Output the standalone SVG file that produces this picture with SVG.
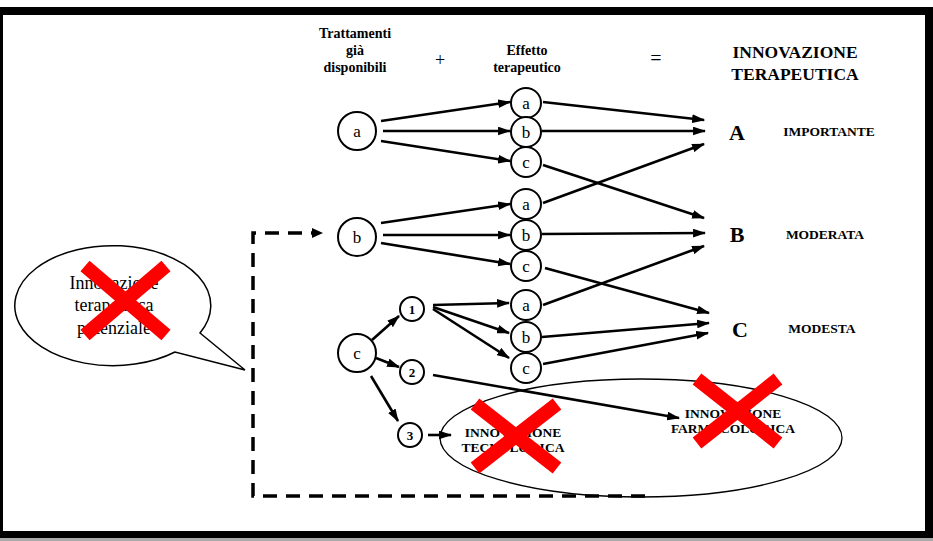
<svg xmlns="http://www.w3.org/2000/svg" width="933" height="541" viewBox="0 0 933 541">
<style>
.f{font-family:"Liberation Serif","DejaVu Serif",serif;fill:#000}
.b{font-weight:bold}
.n{fill:#fff;stroke:#000;stroke-width:2}
.l{stroke:#000;stroke-width:2.6;fill:none;marker-end:url(#ah)}
.x{stroke:#ff0000;stroke-width:14;fill:none}
</style>
<defs>
<marker id="ah" viewBox="0 0 12 8" refX="11" refY="4" markerWidth="13" markerHeight="9" markerUnits="userSpaceOnUse" orient="auto">
<path d="M0,0 L12,4 L0,8 z" fill="#000"/>
</marker>
</defs>
<rect width="933" height="541" fill="#fff"/>
<g id="frame" fill="#000">
<rect x="0" y="7" width="933" height="8"/>
<rect x="0" y="531" width="933" height="7"/>
<rect x="0" y="7" width="3" height="531"/>
<rect x="925" y="7" width="8" height="531"/>
<rect x="0" y="538" width="933" height="3" fill="#aaa"/>
</g>
<g id="header" class="f b" text-anchor="middle">
<text x="355" y="38" font-size="14">Trattamenti</text>
<text x="355" y="55" font-size="14">già</text>
<text x="355" y="72" font-size="14">disponibili</text>
<text x="440" y="66" font-size="18" font-weight="normal">+</text>
<text x="527" y="55" font-size="14">Effetto</text>
<text x="527" y="72" font-size="14">terapeutico</text>
<text x="656" y="65" font-size="20" font-weight="normal">=</text>
<text x="795" y="58" font-size="17.5">INNOVAZIONE</text>
<text x="795" y="80" font-size="17.5">TERAPEUTICA</text>
</g>
<g id="connectors">
<path class="l" d="M381,121 L510,102"/>
<path class="l" d="M383,131 L510,131"/>
<path class="l" d="M381,141 L510,161"/>
<path class="l" d="M381,223 L510,204"/>
<path class="l" d="M383,235 L510,235"/>
<path class="l" d="M381,243 L510,264"/>
<path class="l" d="M372,340 L399,316"/>
<path class="l" d="M376,358 L399,367"/>
<path class="l" d="M371,376 L398,421"/>
<path class="l" d="M428,435 L451,435"/>
<path class="l" d="M433,305 L509,303"/>
<path class="l" d="M433,307 L509,333"/>
<path class="l" d="M433,309 L509,358"/>
<path class="l" d="M433,375 L679,418"/>
<path class="l" d="M543,102 L704,120"/>
<path class="l" d="M542,131 L705,131"/>
<path class="l" d="M543,165 L704,218"/>
<path class="l" d="M543,203 L704,144"/>
<path class="l" d="M542,234 L705,233"/>
<path class="l" d="M545,268 L709,313"/>
<path class="l" d="M543,305 L704,246"/>
<path class="l" d="M542,337 L709,323"/>
<path class="l" d="M543,364 L708,333"/>
<path d="M645,496 L253,496 L253,233 L312,233" stroke="#000" stroke-width="3.5" fill="none" stroke-dasharray="14 9"/>
<path d="M312,228 L323,233 L312,238 z" fill="#000"/>
</g>
<g id="bubble">
<path d="M200,333 L245,370 L175,352 A98,60 0 1 1 200,333 Z" fill="#fff" stroke="#000" stroke-width="1.5"/>
<g class="f" font-size="18" text-anchor="middle">
<text x="114" y="289">Innovazione</text>
<text x="114" y="311">terapeutica</text>
<text x="114" y="334">potenziale</text>
</g>
<path class="x" d="M85,266 L166,335 M166,266 L85,335"/>
</g>
<g id="node-a"><circle class="n" cx="357" cy="131" r="19"/><text class="f" x="357" y="137" font-size="17" text-anchor="middle">a</text></g>
<g id="node-b"><circle class="n" cx="357" cy="237" r="19"/><text class="f" x="357" y="243" font-size="17" text-anchor="middle">b</text></g>
<g id="node-c"><circle class="n" cx="357" cy="353" r="19"/><text class="f" x="357" y="359" font-size="17" text-anchor="middle">c</text></g>
<g id="node-aa"><circle class="n" cx="526" cy="103" r="15"/><text class="f" x="526" y="109" font-size="17" text-anchor="middle">a</text></g>
<g id="node-ab"><circle class="n" cx="526" cy="132" r="15"/><text class="f" x="526" y="138" font-size="17" text-anchor="middle">b</text></g>
<g id="node-ac"><circle class="n" cx="526" cy="162" r="15"/><text class="f" x="526" y="168" font-size="17" text-anchor="middle">c</text></g>
<g id="node-ba"><circle class="n" cx="526" cy="204" r="15"/><text class="f" x="526" y="210" font-size="17" text-anchor="middle">a</text></g>
<g id="node-bb"><circle class="n" cx="526" cy="235" r="15"/><text class="f" x="526" y="241" font-size="17" text-anchor="middle">b</text></g>
<g id="node-bc"><circle class="n" cx="526" cy="266" r="15"/><text class="f" x="526" y="272" font-size="17" text-anchor="middle">c</text></g>
<g id="node-ca"><circle class="n" cx="526" cy="305" r="15"/><text class="f" x="526" y="311" font-size="17" text-anchor="middle">a</text></g>
<g id="node-cb"><circle class="n" cx="526" cy="337" r="15"/><text class="f" x="526" y="343" font-size="17" text-anchor="middle">b</text></g>
<g id="node-cc"><circle class="n" cx="526" cy="368" r="15"/><text class="f" x="526" y="374" font-size="17" text-anchor="middle">c</text></g>
<g id="node-1"><circle class="n" cx="412" cy="309" r="12"/><text class="f b" x="412" y="314" font-size="13" text-anchor="middle">1</text></g>
<g id="node-2"><circle class="n" cx="412" cy="372" r="12"/><text class="f b" x="412" y="377" font-size="13" text-anchor="middle">2</text></g>
<g id="node-3"><circle class="n" cx="410" cy="435" r="12"/><text class="f b" x="410" y="440" font-size="13" text-anchor="middle">3</text></g>
<g id="node-A" class="f b"><text x="737" y="140" font-size="22" text-anchor="middle">A</text><text x="829" y="136" font-size="13.5" text-anchor="middle">IMPORTANTE</text></g>
<g id="node-B" class="f b"><text x="737" y="242" font-size="22" text-anchor="middle">B</text><text x="825" y="239" font-size="13.5" text-anchor="middle">MODERATA</text></g>
<g id="node-C" class="f b"><text x="740" y="337" font-size="22" text-anchor="middle">C</text><text x="822" y="333" font-size="13.5" text-anchor="middle">MODESTA</text></g>
<g id="ellipse-group">
<ellipse cx="641" cy="438" rx="201" ry="59" fill="none" stroke="#000" stroke-width="1.3"/>
</g>
<g id="node-tecnologica" class="f b" font-size="13.5" text-anchor="middle">
<text x="513" y="437">INNOVAZIONE</text>
<text x="513" y="452">TECNOLOGICA</text>
<path class="x" d="M475,404 L557,468 M557,404 L475,468"/>
</g>
<g id="node-farmacologica" class="f b" font-size="13.5" text-anchor="middle">
<text x="733" y="418">INNOVAZIONE</text>
<text x="733" y="433">FARMACOLOGICA</text>
<path class="x" d="M697,379 L778,443 M778,379 L697,443"/>
</g>
</svg>
